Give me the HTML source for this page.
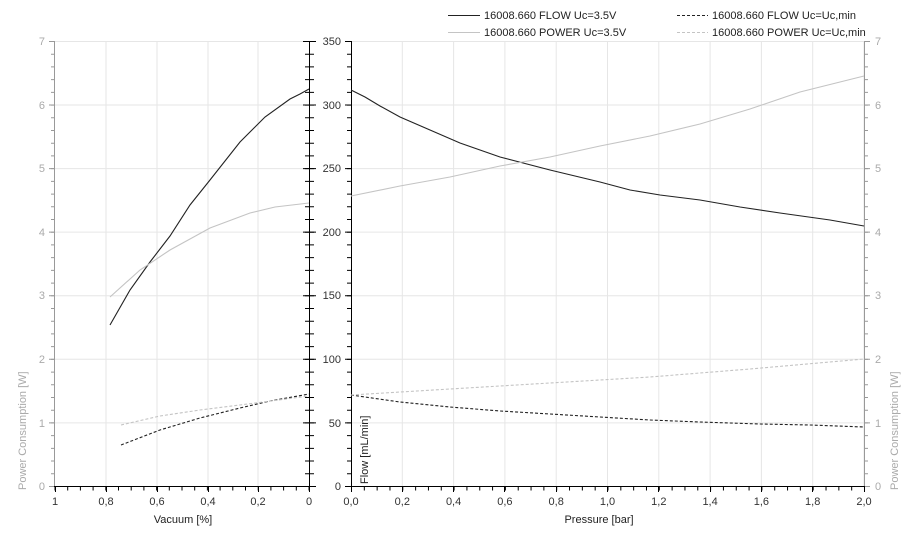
<!DOCTYPE html>
<html><head><meta charset="utf-8"><style>
html,body{margin:0;padding:0;background:#fff}
svg text{font-family:"Liberation Sans",sans-serif;font-size:11px}
</style></head><body>
<svg width="912" height="550" xmlns="http://www.w3.org/2000/svg">
<g stroke="#e6e6e6" stroke-width="1">
<line x1="106" y1="41" x2="106" y2="486"/><line x1="157" y1="41" x2="157" y2="486"/><line x1="208" y1="41" x2="208" y2="486"/><line x1="258" y1="41" x2="258" y2="486"/>
<line x1="54" y1="41.5" x2="309" y2="41.5"/><line x1="54" y1="105" x2="309" y2="105"/><line x1="54" y1="168.6" x2="309" y2="168.6"/><line x1="54" y1="232.1" x2="309" y2="232.1"/><line x1="54" y1="295.7" x2="309" y2="295.7"/><line x1="54" y1="359.3" x2="309" y2="359.3"/><line x1="54" y1="422.9" x2="309" y2="422.9"/>
<line x1="402.3" y1="41" x2="402.3" y2="486"/><line x1="453.6" y1="41" x2="453.6" y2="486"/><line x1="504.9" y1="41" x2="504.9" y2="486"/><line x1="556.2" y1="41" x2="556.2" y2="486"/><line x1="607.5" y1="41" x2="607.5" y2="486"/><line x1="658.8" y1="41" x2="658.8" y2="486"/><line x1="710.1" y1="41" x2="710.1" y2="486"/><line x1="761.4" y1="41" x2="761.4" y2="486"/><line x1="812.7" y1="41" x2="812.7" y2="486"/><line x1="864" y1="41" x2="864" y2="486"/>
<line x1="351" y1="41.5" x2="864" y2="41.5"/><line x1="351" y1="105" x2="864" y2="105"/><line x1="351" y1="168.6" x2="864" y2="168.6"/><line x1="351" y1="232.1" x2="864" y2="232.1"/><line x1="351" y1="295.7" x2="864" y2="295.7"/><line x1="351" y1="359.3" x2="864" y2="359.3"/><line x1="351" y1="422.9" x2="864" y2="422.9"/>
</g>
<!-- axes -->
<g stroke-width="1">
<line x1="54.5" y1="41" x2="54.5" y2="486" stroke="#999"/>
<line x1="309.5" y1="41" x2="309.5" y2="486" stroke="#000"/>
<line x1="351.5" y1="41" x2="351.5" y2="486" stroke="#000"/>
<line x1="864.5" y1="41" x2="864.5" y2="486" stroke="#999"/>
<line x1="54" y1="486.5" x2="310" y2="486.5" stroke="#000"/>
<line x1="351" y1="486.5" x2="865" y2="486.5" stroke="#000"/>
</g>
<!-- minor ticks via dash trick (y: every 12.714 starting at 41) -->
<g fill="none">
<line x1="52.5" y1="41" x2="52.5" y2="487" stroke="#999" stroke-width="3" stroke-dasharray="1 11.714"/>
<line x1="309.5" y1="41" x2="309.5" y2="487" stroke="#000" stroke-width="9" stroke-dasharray="1 11.714"/>
<line x1="349" y1="41" x2="349" y2="487" stroke="#000" stroke-width="4" stroke-dasharray="1 11.714"/>
<line x1="866" y1="41" x2="866" y2="487" stroke="#999" stroke-width="4" stroke-dasharray="1 11.714"/>
<!-- major y ticks -->
<path stroke="#999" d="M49 41.5h5M49 105h5M49 168.6h5M49 232.1h5M49 295.7h5M49 359.3h5M49 422.9h5M49 486.5h5"/>
<path stroke="#000" d="M303 41.5h13M303 105h13M303 168.6h13M303 232.1h13M303 295.7h13M303 359.3h13M303 422.9h13M303 486.5h13"/>
<path stroke="#000" d="M345 41.5h6M345 105h6M345 168.6h6M345 232.1h6M345 295.7h6M345 359.3h6M345 422.9h6M345 486.5h6"/>
<path stroke="#999" d="M864 41.5h6M864 105h6M864 168.6h6M864 232.1h6M864 295.7h6M864 359.3h6M864 422.9h6M864 486.5h6"/>
<!-- x minor ticks -->
<line x1="54.5" y1="488.5" x2="311" y2="488.5" stroke="#000" stroke-width="4" stroke-dasharray="1 11.7"/>
<line x1="351" y1="488.5" x2="866" y2="488.5" stroke="#000" stroke-width="4" stroke-dasharray="1 11.825"/>
<path stroke="#000" d="M55.5 486v6M106.5 486v6M157.5 486v6M208.5 486v6M258.5 486v6M309.5 486v6M351.5 486v6M402.5 486v6M453.5 486v6M504.5 486v6M556.5 486v6M607.5 486v6M658.5 486v6M710.5 486v6M761.5 486v6M812.5 486v6M864.5 486v6"/>
</g>
<!-- curves -->
<g fill="none" stroke-width="1.1">
<polyline stroke="#222" points="110,325 130,290 150,262 170,236 190,205 210,180 240,142 265,117 290,99 300,94 309,89"/>
<polyline stroke="#c4c4c4" points="110,297 140,270 170,250 210,228 250,213 275,207 309,203"/>
<polyline stroke="#222" stroke-dasharray="3,2" points="121,445 160,430 200,418 240,408 270,401 309,394"/>
<polyline stroke="#c4c4c4" stroke-dasharray="3,2" points="121,425 160,416 200,410 240,405 309,396"/>
<polyline stroke="#222" points="351,90 365,97 380,106 400,117 430,130 460,143 500,157 550,170 600,182 630,190 660,195 700,200 740,207 780,213 830,220 864,226"/>
<polyline stroke="#c4c4c4" points="351,196 400,186 450,177 500,166 550,157 600,146 650,136 700,124 750,109 800,92 864,76"/>
<polyline stroke="#222" stroke-dasharray="3,2" points="351,395 400,402 450,407 500,411 550,414 600,417 650,420 700,422 760,424 810,425 864,427"/>
<polyline stroke="#c4c4c4" stroke-dasharray="3,2" points="351,395 450,389 550,383 650,377 750,369 864,359"/>
</g>
<!-- legend -->
<g fill="none" stroke-width="1.1">
<line x1="448" y1="15.5" x2="480" y2="15.5" stroke="#222"/>
<line x1="448" y1="32.5" x2="480" y2="32.5" stroke="#c4c4c4"/>
<line x1="677" y1="15.5" x2="708" y2="15.5" stroke="#222" stroke-dasharray="3,2"/>
<line x1="677" y1="32.5" x2="708" y2="32.5" stroke="#c4c4c4" stroke-dasharray="3,2"/>
</g>
<g fill="#222">
<text x="484" y="19">16008.660 FLOW Uc=3.5V</text>
<text x="484" y="36">16008.660 POWER Uc=3.5V</text>
<text x="712" y="19">16008.660 FLOW Uc=Uc,min</text>
<text x="712" y="36">16008.660 POWER Uc=Uc,min</text>
</g>
<g fill="#aaa" text-anchor="end">
<text x="45" y="45">7</text><text x="45" y="109">6</text><text x="45" y="172">5</text><text x="45" y="236">4</text><text x="45" y="299">3</text><text x="45" y="363">2</text><text x="45" y="427">1</text><text x="45" y="490">0</text>
</g>
<g fill="#aaa">
<text x="875" y="45">7</text><text x="875" y="109">6</text><text x="875" y="172">5</text><text x="875" y="236">4</text><text x="875" y="299">3</text><text x="875" y="363">2</text><text x="875" y="427">1</text><text x="875" y="490">0</text>
</g>
<g fill="#333" text-anchor="end">
<text x="341" y="45">350</text><text x="341" y="109">300</text><text x="341" y="172">250</text><text x="341" y="236">200</text><text x="341" y="299">150</text><text x="341" y="363">100</text><text x="341" y="427">50</text><text x="341" y="490">0</text>
</g>
<g fill="#333" text-anchor="middle">
<text x="55" y="505">1</text><text x="106" y="505">0,8</text><text x="157" y="505">0,6</text><text x="208" y="505">0,4</text><text x="258" y="505">0,2</text><text x="309" y="505">0</text>
<text x="351" y="505">0,0</text><text x="402.3" y="505">0,2</text><text x="453.6" y="505">0,4</text><text x="504.9" y="505">0,6</text><text x="556.2" y="505">0,8</text><text x="607.5" y="505">1,0</text><text x="658.8" y="505">1,2</text><text x="710.1" y="505">1,4</text><text x="761.4" y="505">1,6</text><text x="812.7" y="505">1,8</text><text x="864" y="505">2,0</text>
<text x="183" y="523" fill="#222">Vacuum [%]</text>
<text x="599" y="523" fill="#222">Pressure [bar]</text>
</g>
<text transform="translate(26,490) rotate(-90)" fill="#aaa">Power Consumption [W]</text>
<text transform="translate(898,490) rotate(-90)" fill="#aaa">Power Consumption [W]</text>
<text transform="translate(368,484) rotate(-90)" fill="#222">Flow [mL/min]</text>
</svg>
</body></html>
